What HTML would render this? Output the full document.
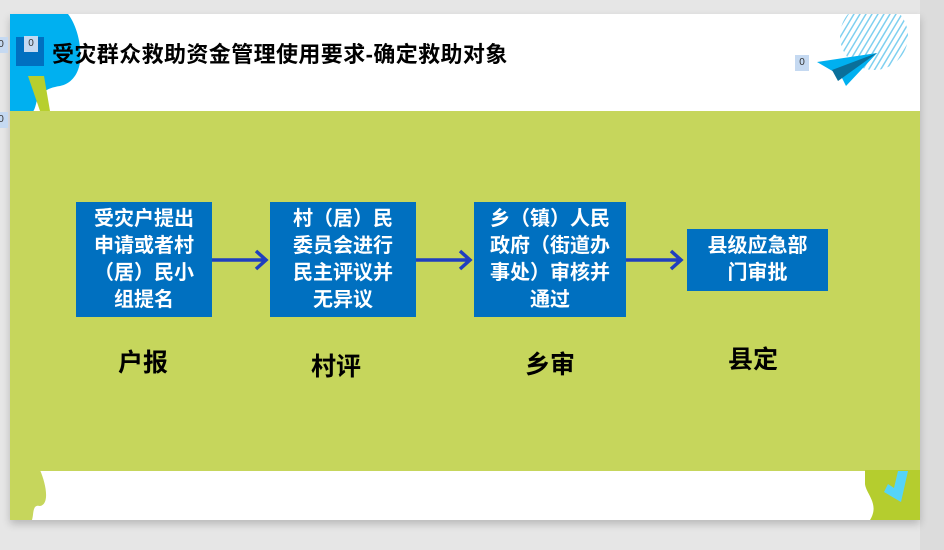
<!DOCTYPE html>
<html><head><meta charset="utf-8"><style>
body{margin:0;width:944px;height:550px;background:#e6e6e6;position:relative;overflow:hidden;font-family:"Liberation Sans","Noto Sans CJK SC",sans-serif}
.a{position:absolute}
.box{position:absolute;background:#0070c0;color:#fff;font-weight:bold;font-size:20px;line-height:27px;text-align:center;display:flex;align-items:center;justify-content:center}
.lab{position:absolute;font-weight:bold;font-size:25px;color:#000;width:120px;text-align:center}
.badge{position:absolute;background:#c5d9f1;font-size:10px;color:#333;text-align:center;width:14px;height:16px;line-height:16px}
</style></head><body>
<div class="a" style="left:920px;top:0;width:24px;height:550px;background:#dcdcdc"></div>
<div class="a" style="left:10px;top:14px;width:910px;height:506px;background:#fff;overflow:hidden;box-shadow:0 4px 8px rgba(0,0,0,.2)">
<svg class="a" style="left:0;top:0" width="910" height="506">
<path d="M0 0 H58 C66 10 72 30 70 48 C68 62 60 70 50 72 C36 74 28 80 26 90 C24 98 22 100 18 100 L0 100 Z" fill="#00b0f0"/>
<path d="M18 62 L34 62 L40 97 L30 97 Z" fill="#b7cf2e"/>
<g fill="none" stroke="#7fd0f0" stroke-width="1.5">
<clipPath id="c"><circle cx="864" cy="22" r="34"/></clipPath>
<g clip-path="url(#c)"><path d="M820 80 L880 -20 M826 80 L886 -20 M832 80 L892 -20 M838 80 L898 -20 M844 80 L904 -20 M850 80 L910 -20 M856 80 L916 -20 M862 80 L922 -20 M868 80 L928 -20 M874 80 L934 -20 M880 80 L940 -20 M814 80 L874 -20 M808 80 L868 -20 M802 80 L862 -20 M796 80 L856 -20 M790 80 L850 -20"/></g></g>
<path d="M807 48 L867 39 L836 72 L831 62 Z" fill="#00b0f0"/>
<path d="M822 56 L867 39 L828 67 Z" fill="#0a6f9a"/>
<rect x="0" y="97" width="910" height="360" fill="#c6d65c"/>
<path d="M0 456 H30 C36 470 40 490 30 492 C22 490 24 500 22 506 H0 Z" fill="#c6d65c"/>
<path d="M855 456 H910 V506 H860 C870 490 856 480 855 470 Z" fill="#b5cd2e"/>
<path d="M888 457 L898 457 L891 488 L874 478 L878 470 L884 474 Z" fill="#55d4f8"/>
</svg>
</div>
<div class="a" style="left:16px;top:37px;width:28px;height:29px;background:#0070c0"></div>
<div class="badge" style="left:24px;top:36px">0</div>
<div class="badge" style="left:795px;top:55px">0</div>
<div class="badge" style="left:-6px;top:37px">0</div>
<div class="badge" style="left:-6px;top:112px">0</div>
<div class="a" style="left:52px;top:37px;font-size:22px;letter-spacing:0.4px;font-weight:bold;color:#000;white-space:nowrap">受灾群众救助资金管理使用要求-确定救助对象</div>
<div class="box" style="left:76px;top:202px;width:136px;height:115px">受灾户提出<br>申请或者村<br>（居）民小<br>组提名</div>
<div class="box" style="left:270px;top:202px;width:146px;height:115px">村（居）民<br>委员会进行<br>民主评议并<br>无异议</div>
<div class="box" style="left:474px;top:202px;width:152px;height:115px">乡（镇）人民<br>政府（街道办<br>事处）审核并<br>通过</div>
<div class="box" style="left:687px;top:229px;width:141px;height:62px">县级应急部<br>门审批</div>
<svg class="a" style="left:0;top:0" width="944" height="550">
<g stroke="#1f3fbf" stroke-width="3.5" fill="none">
<path d="M212 260 H266 M256 251 L266 260 L256 269"/>
<path d="M416 260 H470 M460 251 L470 260 L460 269"/>
<path d="M626 260 H681 M671 251 L681 260 L671 269"/>
</g></svg>
<div class="lab" style="left:83px;top:343px">户报</div>
<div class="lab" style="left:276px;top:347px">村评</div>
<div class="lab" style="left:490px;top:345px">乡审</div>
<div class="lab" style="left:693px;top:340px">县定</div>
</body></html>
